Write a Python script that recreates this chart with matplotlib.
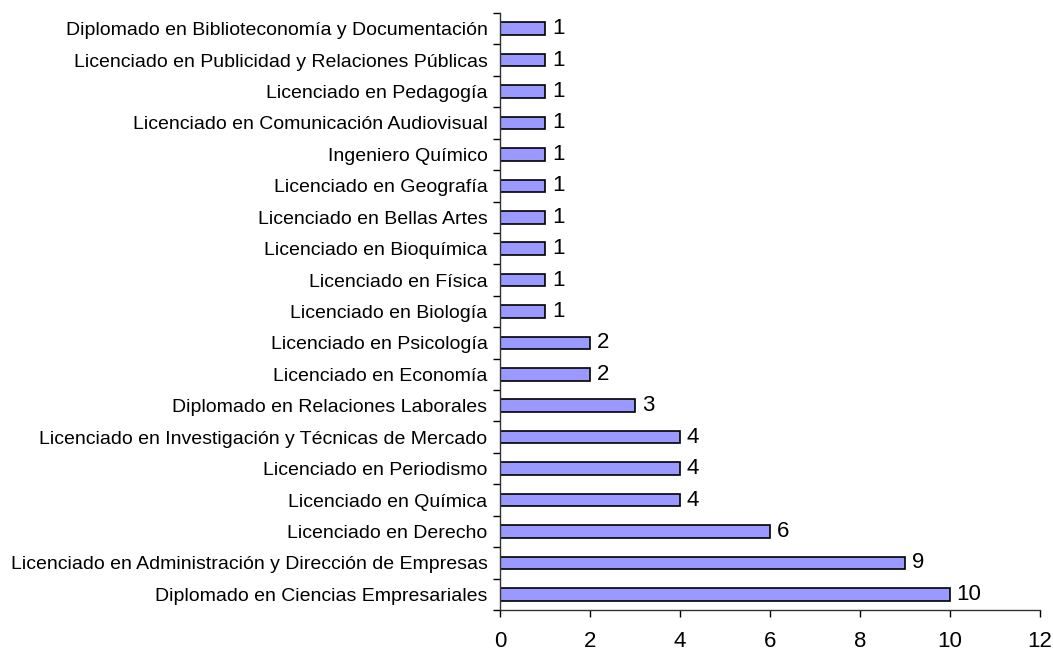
import matplotlib.pyplot as plt
import numpy as np

plt.rcParams['font.family'] = ['Liberation Sans', 'DejaVu Sans']

# categorias de abajo hacia arriba
titulaciones = [
    "Diplomado en Ciencias Empresariales",
    "Licenciado en Administración y Dirección de Empresas",
    "Licenciado en Derecho",
    "Licenciado en Química",
    "Licenciado en Periodismo",
    "Licenciado en Investigación y Técnicas de Mercado",
    "Diplomado en Relaciones Laborales",
    "Licenciado en Economía",
    "Licenciado en Psicología",
    "Licenciado en Biología",
    "Licenciado en Física",
    "Licenciado en Bioquímica",
    "Licenciado en Bellas Artes",
    "Licenciado en Geografía",
    "Ingeniero Químico",
    "Licenciado en Comunicación Audiovisual",
    "Licenciado en Pedagogía",
    "Licenciado en Publicidad y Relaciones Públicas",
    "Diplomado en Biblioteconomía y Documentación",
]
valores = [10, 9, 6, 4, 4, 4, 3, 2, 2, 1, 1, 1, 1, 1, 1, 1, 1, 1, 1]
xticks = [0, 2, 4, 6, 8, 10, 12]

fig = plt.figure(figsize=(10.53, 6.52), dpi=100)
ax = fig.add_axes([500 / 1053, 1 - 610 / 652, 540 / 1053, 597 / 652])

y = np.arange(len(titulaciones))
ax.barh(y, valores, height=0.4, color="#9999FF", edgecolor="black", linewidth=1.2)

for yi, v in zip(y, valores):
    ax.text(v + 0.15, yi, str(v), va="center", ha="left", fontsize=16)

ax.set_xlim(0, 12)
ax.set_ylim(-0.5, len(titulaciones) - 0.5)
ax.set_xticks(xticks)
ax.set_xticklabels([str(t) for t in xticks], fontsize=16)
ax.set_yticks(y)
ax.set_yticklabels(titulaciones, fontsize=14)
ax.set_yticks(np.arange(len(titulaciones) + 1) - 0.5, minor=True)
ax.tick_params(axis="y", which="major", length=0, pad=9)
ax.tick_params(axis="y", which="minor", length=5, direction="out", width=1)
ax.tick_params(axis="x", length=5, direction="out", width=1, pad=10)

for s in ["top", "right"]:
    ax.spines[s].set_visible(False)
for s in ["left", "bottom"]:
    ax.spines[s].set_linewidth(1)
    ax.spines[s].set_color("#333333")

fig.savefig("out.png", dpi=100)
